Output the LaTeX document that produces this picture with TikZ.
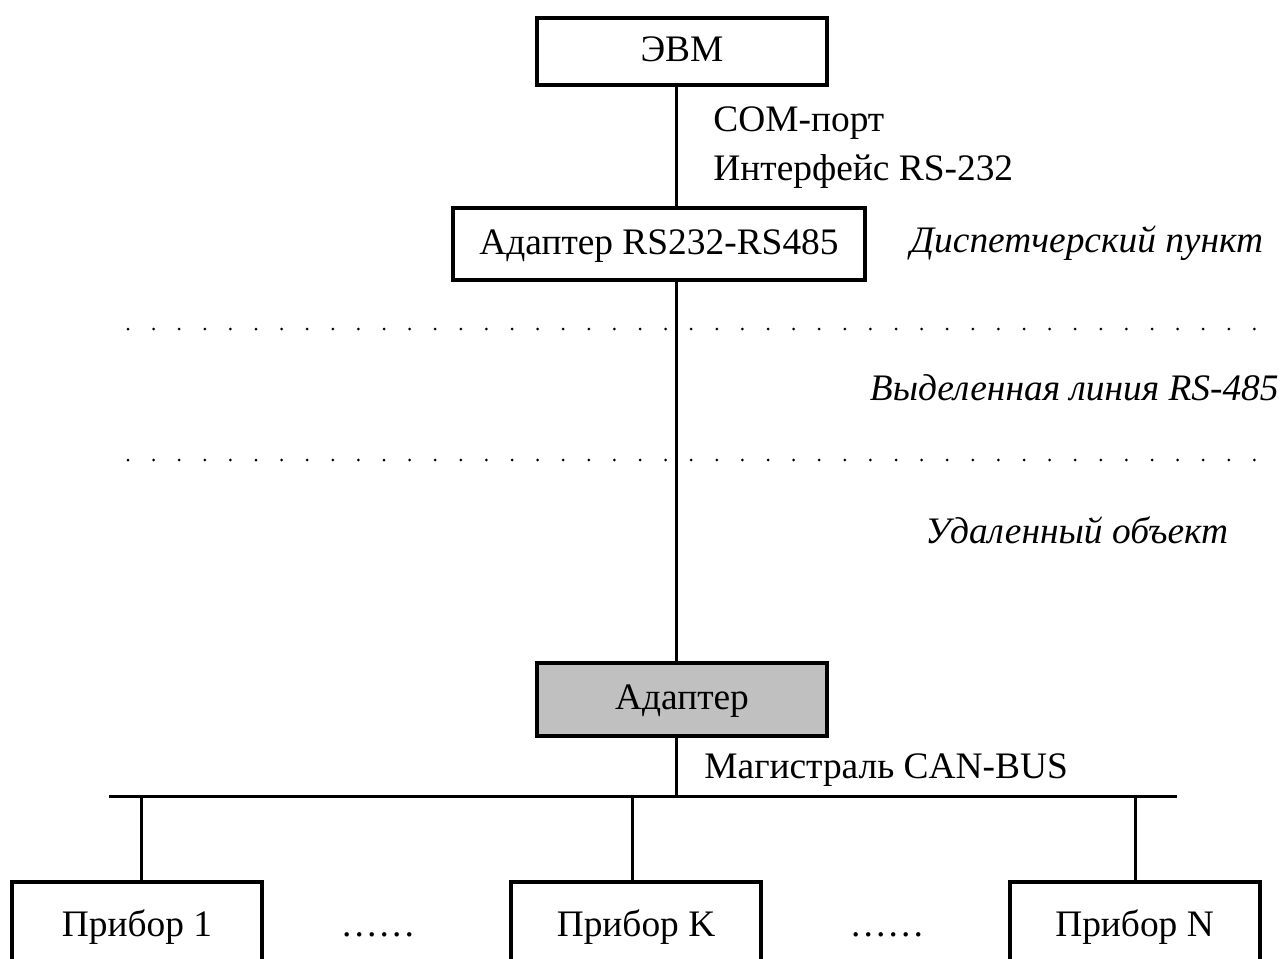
\documentclass[tikz,border=0pt]{standalone}
\usepackage{fontspec}
\setmainfont{Liberation Serif}
\definecolor{adaptergrey}{HTML}{C0C0C0}
\tikzset{
  unit/.style={shape=rectangle, draw=black, line width=1.6pt, inner sep=0pt,
    font=\fontsize{18.7}{23}\selectfont, text height=14pt, text depth=3.7pt},
  device/.style={unit, line width=2pt, minimum width=125pt, minimum height=44.5pt},
  caption/.style={anchor=base west, inner sep=0pt, font=\fontsize{18.7}{23}\selectfont},
  zone/.style={caption, font=\fontsize{18.7}{23}\selectfont\itshape},
  wire/.style={line width=1.5pt},
  border/.style={line width=1.5pt, line cap=round, dash pattern=on 0pt off 12.8pt}
}

\begin{document}
\begin{tikzpicture}[x=0.5pt, y=-0.5pt]
\useasboundingbox (0,0) rectangle (1284,958);
\clip (0,0) rectangle (1284,958);
% dispatcher side
\node[unit, minimum width=145pt, minimum height=33.5pt] (evm) at (682,51.5) {ЭВМ};
\node[unit, minimum width=206pt, minimum height=36pt] (conv) at (659,244) {Адаптер RS232-RS485};
\node[caption] (com) at (713,131) {COM-порт};
\node[caption] (iface) at (713,180) {Интерфейс RS-232};
\node[zone] (disp) at (910,252) {Диспетчерский пункт};
% zone borders
\coordinate (d1L) at (128,329); \coordinate (d1R) at (1256,329);
\coordinate (d2L) at (128,460); \coordinate (d2R) at (1256,460);
\draw[border] (d1L) -- (d1R);
\draw[border] (d2L) -- (d2R);
\node[zone, anchor=base east] (line) at (1279,400) {Выделенная линия RS-485};
\node[zone] (remote) at (925,543) {Удаленный объект};
% remote side
\node[unit, fill=adaptergrey, minimum width=145pt, minimum height=36.5pt] (adapter) at (682,699.5) {Адаптер};
\node[caption] (bus) at (704,778) {Магистраль CAN-BUS};
\coordinate (spine) at (676,0);
\path [wire, draw=black] (spine |- evm.south) edge (spine |- conv.north);
\path [wire, draw=black] (spine |- conv.south) edge (spine |- adapter.north);
% CAN-BUS
\coordinate (busL) at (109,796); \coordinate (busR) at (1177,796);
\draw[wire] (busL) -- (busR);
\path [wire, draw=black] (spine |- adapter.south) edge (spine |- busL);
\node[device] (dev1) at (137,926.5) {Прибор 1};
\node[device] (devK) at (636,926.5) {Прибор K};
\node[device] (devN) at (1134.5,926.5) {Прибор N};
\node[caption, anchor=base] (gap1) at (378,936) {……};
\node[caption, anchor=base] (gap2) at (887,936) {……};
\coordinate (tap1) at (141,796);
\coordinate (tapK) at (632,796);
\coordinate (tapN) at (1135,796);
\path [wire, draw=black] (tap1) edge (tap1 |- dev1.north);
\path [wire, draw=black] (tapK) edge (tapK |- devK.north);
\path [wire, draw=black] (tapN) edge (tapN |- devN.north);
\end{tikzpicture}
\end{document}
